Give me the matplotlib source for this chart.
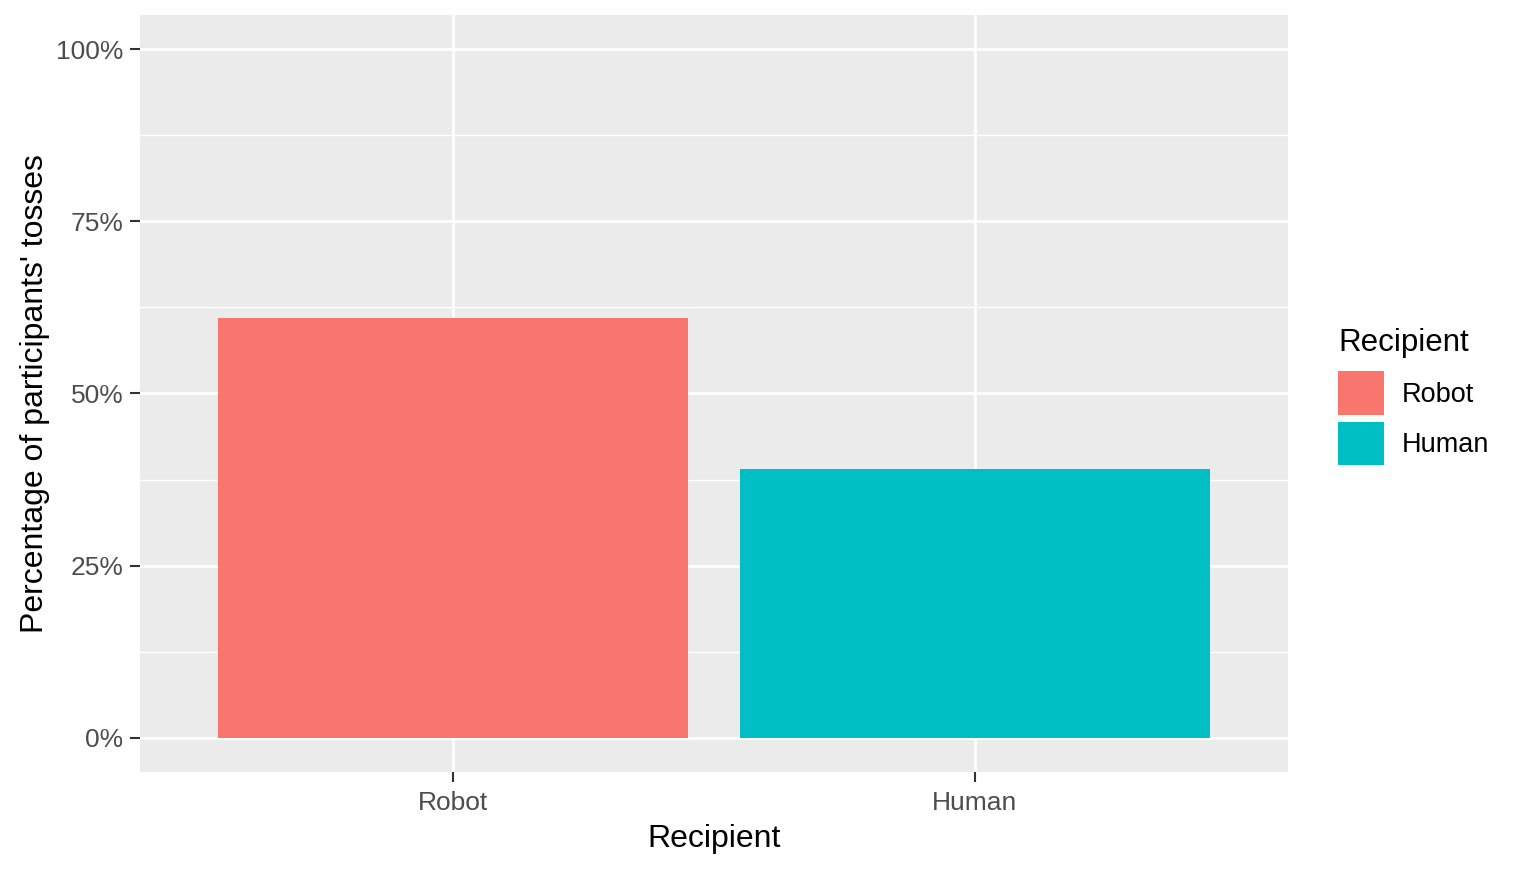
import matplotlib.pyplot as plt
import numpy as np
from matplotlib.ticker import FixedLocator

plt.rcParams['font.family'] = ['Liberation Sans', 'DejaVu Sans']

# data
recipients = ["Robot", "Human"]
percent_tosses = [61.0, 39.0]
bar_colors = ["#F8766D", "#00BFC4"]
y_ticks = [0, 25, 50, 75, 100]
y_tick_labels = ["0%", "25%", "50%", "75%", "100%"]

fig = plt.figure(figsize=(15.24, 8.71), dpi=100)
ax = fig.add_axes([140 / 1524, 1 - 772 / 871, 1148 / 1524, 757 / 871])
ax.set_facecolor("#EBEBEB")

x = np.arange(1, len(recipients) + 1)
bars = ax.bar(x, percent_tosses, width=0.9, color=bar_colors, zorder=3)

ax.set_xlim(0.4, len(recipients) + 0.6)
ax.set_ylim(-5, 105)
ax.set_xticks(x)
ax.set_xticklabels(recipients)
ax.set_yticks(y_ticks)
ax.set_yticklabels(y_tick_labels)
ax.yaxis.set_minor_locator(FixedLocator([12.5, 37.5, 62.5, 87.5]))

ax.grid(which="major", color="white", linewidth=2.0, zorder=1)
ax.grid(which="minor", axis="y", color="white", linewidth=1.0, zorder=1)
ax.set_axisbelow(True)
for s in ax.spines.values():
    s.set_visible(False)

ax.tick_params(which="major", length=7, width=1.5, color="#333333",
               labelcolor="#4D4D4D", labelsize=19, pad=5)
ax.tick_params(axis="x", pad=7)
ax.tick_params(which="minor", length=0)

ax.set_xlabel("Recipient", fontsize=23, color="black", labelpad=6)
ax.set_ylabel("Percentage of participants' tosses", fontsize=23,
              color="black", labelpad=4)

leg = fig.legend(bars, recipients, title="Recipient", loc="upper left",
                 bbox_to_anchor=(1338 / 1524, 1 - 328 / 871), frameon=False,
                 fontsize=19.5, title_fontsize=22.5, handlelength=1.7,
                 handleheight=2.1, handletextpad=0.66, labelspacing=0.26,
                 borderaxespad=0, borderpad=0)
leg._legend_box.align = "left"
leg._legend_box.sep = 9.5  # a bit more room under the title

fig.savefig("out.png", dpi=100)
